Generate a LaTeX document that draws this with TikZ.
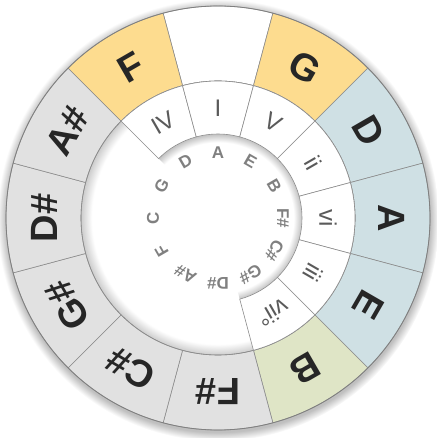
\documentclass[tikz,border=0pt]{standalone}
\usepackage{fontspec}
\setmainfont{Liberation Sans}
\definecolor{orng}{HTML}{FDDC8F}
\definecolor{blu}{HTML}{CFE0E4}
\definecolor{olv}{HTML}{DFE5C6}
\definecolor{gry}{HTML}{E1E1E1}
\definecolor{sep}{HTML}{8C8C8C}
\definecolor{txtdark}{HTML}{262626}
\definecolor{txtmid}{HTML}{5A5A5A}
\definecolor{txtlight}{HTML}{808080}
\pgfdeclareradialshading{bigshadow}{\pgfpoint{0bp}{0bp}}{color(0bp)=(white); color(23bp)=(white); color(25bp)=(black!20); color(50bp)=(black!20)}
\pgfdeclareradialshading{diskshadow}{\pgfpoint{0bp}{0bp}}{color(0bp)=(white); color(22.5bp)=(white); color(25bp)=(black!24); color(50bp)=(black!24)}
\pgfdeclareradialshading{dropshadow}{\pgfpoint{0bp}{0bp}}{color(0bp)=(black!25); color(24bp)=(black!25); color(25bp)=(white); color(50bp)=(white)}
\begin{document}
\begin{tikzpicture}[x=1pt,y=1pt,
  segline/.style={draw=sep, line width=0.6pt},
  outerlbl/.style={text=txtdark, font=\fontsize{38}{38}\bfseries\selectfont, inner sep=0pt},
  romanlbl/.style={text=txtmid, font=\fontsize{24}{24}\selectfont, inner sep=0pt},
  innerlbl/.style={text=txtlight, font=\fontsize{17}{17}\bfseries\selectfont, inner sep=0pt}]
\useasboundingbox (0,0) rectangle (436,438);
\begin{scope}[shift={(218,220)}]
  % drop shadow and base
  \shade[shading=dropshadow] (0,-2) circle (221);
  \fill[white] (0,0) circle (212);
  \shade[shading=bigshadow] (0,0) circle (137);
  % outer ring
  \foreach \a/\c/\t/\n in {90/white//o0, 60/orng/G/o1, 30/blu/D/o2, 0/blu/A/o3, -30/blu/E/o4, -60/olv/B/o5, -90/gry/F\#/o6, -120/gry/C\#/o7, -150/gry/G\#/o8, 180/gry/D\#/o9, 150/gry/A\#/o10, 120/orng/F/o11}{
    \path[fill=\c, segline] (\a-15:137) arc[start angle=\a-15, end angle=\a+15, radius=137] -- (\a+15:212) arc[start angle=\a+15, end angle=\a-15, radius=212] -- cycle;
    \node[outerlbl, rotate=\a-90] (\n) at (\a:174) {\t};
  }
  \draw[draw=black!50, line width=0.8pt] (0,0) circle (212);
  \draw[segline] (0,0) circle (137);
  % inner disk shadow under the middle ring
  \begin{scope}
    \clip (0,0) -- (-75:100) arc[start angle=-75, end angle=135, radius=100] -- cycle;
    \shade[shading=diskshadow] (0,0) circle (84);
  \end{scope}
  % middle ring
  \foreach \a/\t/\n in {120/IV/m1, 90/I/m2, 60/V/m3, 30/ii/m4, 0/vi/m5, -30/iii/m6, -60/vii°/m7}{
    \path[fill=white, segline] (\a-15:84) arc[start angle=\a-15, end angle=\a+15, radius=84] -- (\a+15:137) arc[start angle=\a+15, end angle=\a-15, radius=137] -- cycle;
    \node[romanlbl, rotate=\a-90] (\n) at (\a:110) {\t};
  }
  % inner letters
  \foreach \a/\t/\n in {90/A/i1, 60/E/i2, 30/B/i3, 0/F\#/i4, -30/C\#/i5, -60/G\#/i6, -90/D\#/i7, -120/A\#/i8, -150/F/i9, 180/C/i10, 150/G/i11, 120/D/i12}{
    \node[innerlbl, rotate=\a-90] (\n) at (\a:65) {\t};
  }
\end{scope}
\end{tikzpicture}
\end{document}
